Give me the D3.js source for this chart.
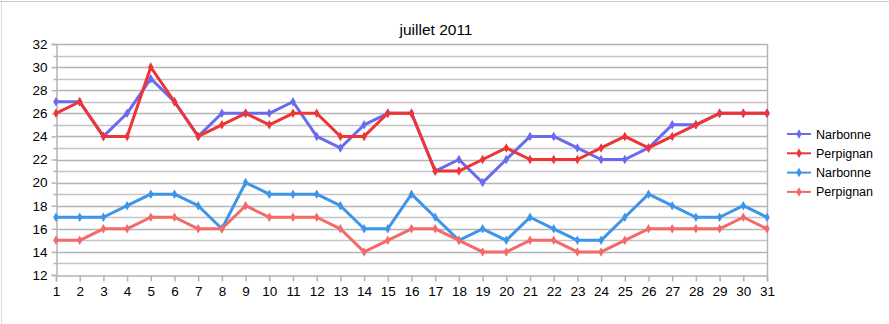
<!DOCTYPE html>
<html>
<head>
<meta charset="utf-8">
<script src="https://cdn.jsdelivr.net/npm/d3@7/dist/d3.min.js"></script>
<style>
  html, body { margin: 0; padding: 0; background: #fff; }
  svg { display: block; font-family: "Liberation Sans", Arial, sans-serif; }
</style>
</head>
<body>
<svg id="chart" width="889" height="324"></svg>
<script>
// Daily temperatures, July 2011
const days = d3.range(1, 32);
const narbonneMax = [27,27,24,26,29,27,24,26,26,26,27,24,23,25,26,26,21,22,20,22,24,24,23,22,22,23,25,25,26,26,26];
const perpignanMax = [26,27,24,24,30,27,24,25,26,25,26,26,24,24,26,26,21,21,22,23,22,22,22,23,24,23,24,25,26,26,26];
const narbonneMin = [17,17,17,18,19,19,18,16,20,19,19,19,18,16,16,19,17,15,16,15,17,16,15,15,17,19,18,17,17,18,17];
const perpignanMin = [15,15,16,16,17,17,16,16,18,17,17,17,16,14,15,16,16,15,14,14,15,15,14,14,15,16,16,16,16,17,16];
const seriesNames = ["Narbonne", "Perpignan", "Narbonne", "Perpignan"];
const seriesColors = ["#6a6aee", "#ee3434", "#3d95ea", "#f26a6a"];
const yTicks = d3.range(12, 33, 2);
const title = "juillet 2011";

const series = [narbonneMax, perpignanMax, narbonneMin, perpignanMin].map((values, i) => ({
  name: seriesNames[i], color: seriesColors[i], values
}));

const svg = d3.select("#chart");
const plotLeft = 56, plotRight = 767, plotTop = 44, plotBottom = 275;

const x = d3.scaleLinear().domain([1, 31]).range([plotLeft, plotRight]);
const y = d3.scaleLinear().domain([12, 32]).range([plotBottom, plotTop]);

// page frame
svg.append("line").attr("x1", 0).attr("x2", 889).attr("y1", 1.5).attr("y2", 1.5)
  .attr("stroke", "#c8c8c8").attr("stroke-width", 1);
svg.append("line").attr("x1", 1.5).attr("x2", 1.5).attr("y1", 0).attr("y2", 324)
  .attr("stroke", "#dcdcdc").attr("stroke-width", 1);

// horizontal grid at every degree
const grid = svg.append("g");
grid.selectAll("line").data(d3.range(13, 33)).join("line")
  .attr("x1", plotLeft).attr("x2", plotRight)
  .attr("y1", d => Math.round(y(d)) + 0.5).attr("y2", d => Math.round(y(d)) + 0.5)
  .attr("stroke", d => d % 2 === 0 ? "#b4b4b4" : "#c4c4c4")
  .attr("stroke-width", 1.5);

// right border of the plot area
svg.append("line").attr("x1", plotRight + 0.5).attr("x2", plotRight + 0.5)
  .attr("y1", plotTop).attr("y2", plotBottom).attr("stroke", "#b4b4b4").attr("stroke-width", 1.5);

// y axis
const yAxis = svg.append("g").attr("transform", `translate(${plotLeft + 0.5},0)`)
  .call(d3.axisLeft(y).tickValues(yTicks).tickSize(5).tickPadding(4).tickFormat(d3.format("d")));
yAxis.select(".domain").attr("stroke", "#b4b4b4").attr("stroke-width", 1.5);
yAxis.selectAll(".tick line").attr("stroke", "#b4b4b4").attr("stroke-width", 1.5);
yAxis.selectAll(".tick text").attr("font-size", 13.5).attr("fill", "#000")
  .attr("font-family", "Liberation Sans, Arial, sans-serif");
// minor ticks on y
yAxis.selectAll(".minor").data(d3.range(13, 32, 2)).join("line")
  .attr("class", "minor")
  .attr("x1", -3).attr("x2", 0)
  .attr("y1", d => Math.round(y(d)) + 0.5).attr("y2", d => Math.round(y(d)) + 0.5)
  .attr("stroke", "#b4b4b4").attr("stroke-width", 1.5);

// x axis
const xAxis = svg.append("g").attr("transform", `translate(0,${Math.round(plotBottom) + 0.5})`)
  .call(d3.axisBottom(x).tickValues(days).tickSize(6).tickPadding(5).tickFormat(d3.format("d")));
xAxis.select(".domain").attr("stroke", "#b4b4b4").attr("stroke-width", 1.5);
xAxis.selectAll(".tick line").attr("stroke", "#b4b4b4").attr("stroke-width", 1.5);
xAxis.selectAll(".tick text").attr("font-size", 13.5).attr("fill", "#000")
  .attr("font-family", "Liberation Sans, Arial, sans-serif");

// title
svg.append("text").attr("x", 436).attr("y", 35).attr("text-anchor", "middle")
  .attr("font-size", 15.5).attr("fill", "#000").text(title);

// series lines and markers, later series drawn on top
const line = d3.line().x((d, i) => x(days[i])).y(d => y(d));
const diamond = d3.symbol().type(d3.symbolDiamond).size(26);

series.forEach(s => {
  const g = svg.append("g");
  g.append("path").attr("d", line(s.values)).attr("fill", "none")
    .attr("stroke", s.color).attr("stroke-width", 3).attr("stroke-linejoin", "round");
  g.selectAll("path.m").data(s.values).join("path").attr("class", "m")
    .attr("d", diamond)
    .attr("transform", (d, i) => `translate(${x(days[i])},${y(d)})`)
    .attr("fill", s.color);
});

// legend
const legend = svg.append("g").attr("transform", "translate(787,134)");
series.forEach((s, i) => {
  const row = legend.append("g").attr("transform", `translate(0,${i * 19.3})`);
  row.append("line").attr("x1", 0).attr("x2", 24).attr("y1", 0).attr("y2", 0)
    .attr("stroke", s.color).attr("stroke-width", 2);
  row.append("path").attr("d", diamond).attr("transform", "translate(12,0)").attr("fill", s.color);
  row.append("text").attr("x", 29).attr("y", 4.5).attr("font-size", 12.5).attr("fill", "#000").text(s.name);
});
</script>
</body>
</html>
